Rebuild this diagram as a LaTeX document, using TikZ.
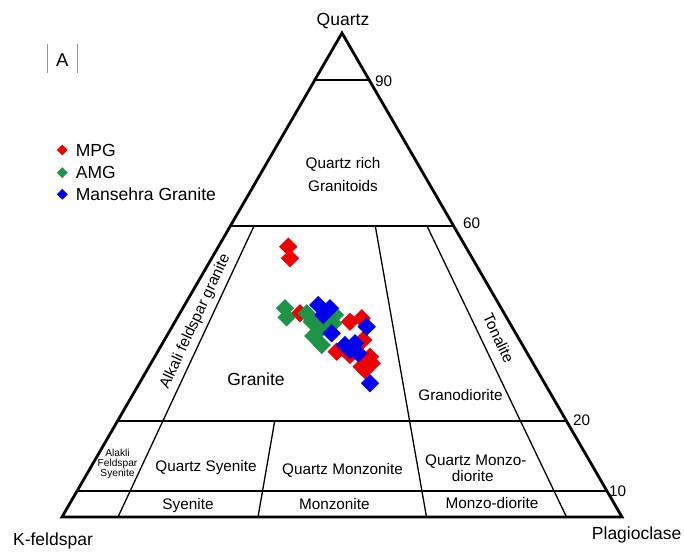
\documentclass[tikz,border=0pt]{standalone}
\usepackage{fontspec}
\setmainfont{Liberation Sans}
\usetikzlibrary{shapes.geometric}
\definecolor{mred}{RGB}{238,0,0}
\definecolor{mgreen}{RGB}{30,148,72}
\definecolor{mblue}{RGB}{0,0,238}
\definecolor{boxgray}{RGB}{150,150,150}
\begin{document}
\begin{tikzpicture}[x=1pt,y=-1pt,
  outer/.style={line width=2.8pt},
  inner/.style={line width=1.3pt},
  txt/.style={inner sep=0pt, anchor=base},
  big/.style={font=\fontsize{17.5}{21}\selectfont},
  med/.style={font=\fontsize{15.3}{18}\selectfont},
  sml/.style={font=\fontsize{10.2}{12}\selectfont},
  pt/.style={diamond, aspect=1, inner sep=0pt, minimum size=18.5pt, draw=none},
  lg/.style={diamond, aspect=1, inner sep=0pt, minimum size=11pt, draw=none}]
\useasboundingbox (0,0) rectangle (684,551);
% frame corners
\coordinate (Q) at (342,33);
\coordinate (K) at (62,517);
\coordinate (P) at (622,517);
\coordinate (h90l) at (314.8,80);  \coordinate (h90r) at (369.2,80);
\coordinate (h60l) at (230.4,226); \coordinate (h60r) at (453.6,226);
\coordinate (h20l) at (117.5,421); \coordinate (h20r) at (566.5,421);
\coordinate (h10l) at (77,491);    \coordinate (h10r) at (607,491);
\coordinate (a1t) at (254,226);   \coordinate (a1b) at (118,517);
\coordinate (a2t) at (274.7,421); \coordinate (a2b) at (258,517);
\coordinate (a3t) at (375.3,226); \coordinate (a3b) at (426.5,517);
\coordinate (a4t) at (427,226);   \coordinate (a4b) at (566.5,517);
% inner lines
\draw[inner] (h90l) -- (h90r);
\draw[inner] (h60l) -- (h60r);
\draw[inner] (h20l) -- (h20r);
\draw[inner] (h10l) -- (h10r);
\draw[inner] (a1t) -- (a1b);
\draw[inner] (a2t) -- (a2b);
\draw[inner] (a3t) -- (a3b);
\draw[inner] (a4t) -- (a4b);
% outer triangle
\draw[outer] (Q) -- (K) -- (P) -- cycle;
% corner labels and ticks
\node[txt,big] (lq) at (343,26) {Quartz};
\node[txt,big] (lk) at (53,545) {K-feldspar};
\node[txt,big] (lp) at (636.7,539) {Plagioclase};
\node[txt,med,anchor=base west] (t90) at (375,86) {90};
\node[txt,med,anchor=base west] (t60) at (463,228) {60};
\node[txt,med,anchor=base west] (t20) at (573,425) {20};
\node[txt,med,anchor=base west] (t10) at (609,496) {10};
% panel letter
\coordinate (bx1) at (47.3,44.3); \coordinate (bx2) at (47.3,72.7);
\coordinate (bx3) at (77.3,44.3); \coordinate (bx4) at (77.3,72.7);
\draw[boxgray, line width=0.6pt] (bx1) -- (bx2);
\draw[boxgray, line width=0.6pt] (bx3) -- (bx4);
\node[txt,font=\fontsize{18.5}{22}\selectfont] (la) at (62.3,66.7) {A};
% legend
\node[lg, fill=mred] (lg1) at (62.3,150) {};
\node[lg, fill=mgreen] (lg2) at (62.3,172.7) {};
\node[lg, fill=mblue] (lg3) at (62.3,194.3) {};
\node[txt,big,anchor=base west] (lt1) at (75.7,156.7) {MPG};
\node[txt,big,anchor=base west] (lt2) at (75.7,178.7) {AMG};
\node[txt,big,anchor=base west] (lt3) at (75.7,200) {Mansehra Granite};
% field labels
\node[txt,med] (f1a) at (343,168) {Quartz rich};
\node[txt,med] (f1b) at (343,191) {Granitoids};
\node[med,inner sep=0pt,rotate=65] (f2) at (195.5,321.5) {Alkali feldspar granite};
\node[txt,big] (f3) at (256,385) {Granite};
\node[med,inner sep=0pt,rotate=-65] (f4) at (498.7,338.3) {Tonalite};
\node[txt,med] (f5) at (460.5,400) {Granodiorite};
\node[txt,sml] (f6a) at (117.5,456.5) {Alakli};
\node[txt,sml] (f6b) at (117.5,466.5) {Feldspar};
\node[txt,sml] (f6c) at (117.5,476.5) {Syenite};
\node[txt,med] (f7) at (206,471) {Quartz Syenite};
\node[txt,med] (f8) at (342.5,474) {Quartz Monzonite};
\node[txt,med] (f9a) at (475.8,465) {Quartz Monzo-};
\node[txt,med] (f9b) at (472.8,481.7) {diorite};
\node[txt,med] (f10) at (188,509.3) {Syenite};
\node[txt,med] (f11) at (334.3,509.3) {Monzonite};
\node[txt,med] (f12) at (492,508) {Monzo-diorite};
% data points
\foreach \x/\y [count=\i] in {288.3/246.7, 290/258.3, 300/313.3, 350/321.7, 361.7/318.3,
  363.3/340, 336.7/351.7, 350/355, 370/356.7, 371.7/363.3, 361.7/366.7, 365/370}
  \node[pt, fill=mred] (r\i) at (\x,\y) {};
\foreach \x/\y [count=\i] in {285/308.3, 286.7/317.3, 306.7/313.3, 311.7/321.7, 320/330,
  313.3/336, 321.7/345, 335/315, 333.3/323.3, 325/321.7}
  \node[pt, fill=mgreen] (g\i) at (\x,\y) {};
\foreach \x/\y [count=\i] in {318.3/305, 330/308.3, 323.3/315, 331.7/333.3, 366.7/326.7,
  345/345, 355/343.3, 358.3/353.3, 350/350, 370/383.3}
  \node[pt, fill=mblue] (b\i) at (\x,\y) {};
\end{tikzpicture}
\end{document}
